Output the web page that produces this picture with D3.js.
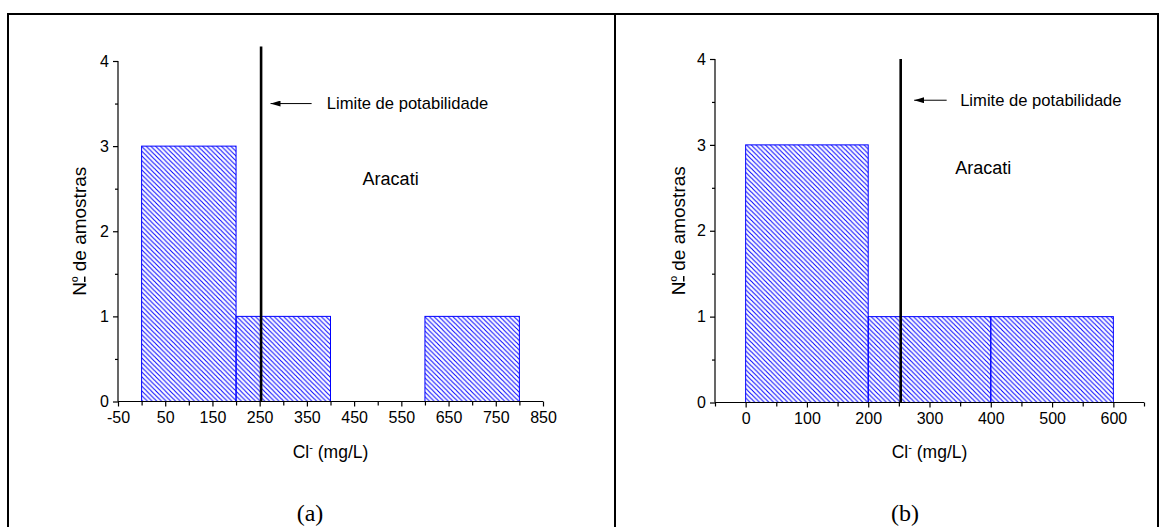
<!DOCTYPE html>
<html>
<head>
<meta charset="utf-8">
<script src="https://d3js.org/d3.v7.min.js"></script>
<style>
html,body{margin:0;padding:0;background:#fff;}
svg{display:block;font-family:"Liberation Sans",Arial,sans-serif;}
</style>
</head>
<body>
<svg id="chart" width="1166" height="527"></svg>
<script>
// ---- data ----
const binStartsA = [0, 200, 600];
const binEndsA   = [200, 400, 800];
const countsA    = [3, 1, 1];
const xTicksA    = [-50, 50, 150, 250, 350, 450, 550, 650, 750, 850];
const xMinorA    = [0, 100, 200, 300, 400, 500, 600, 700, 800];

const binStartsB = [0, 200, 400];
const binEndsB   = [200, 400, 600];
const countsB    = [3, 1, 1];
const xTicksB    = [0, 100, 200, 300, 400, 500, 600];
const xMinorB    = [-50, 50, 150, 250, 350, 450, 550, 650];

const yTicks     = [0, 1, 2, 3, 4];
const yMinor     = [0.5, 1.5, 2.5, 3.5];
const limitValue = 253;
const annotationText = "Limite de potabilidade";
const siteName   = "Aracati";
const panelLabels = ["(a)", "(b)"];

const svg = d3.select("#chart");
const fmt = d => String(d);

// pattern
const defs = svg.append("defs");
const pw = 4.7;
const pat = defs.append("pattern").attr("id", "hatch")
  .attr("patternUnits", "userSpaceOnUse").attr("width", pw).attr("height", pw);
pat.append("path")
  .attr("d", `M0,0 L${pw},${pw} M${-pw},0 L0,${pw} M0,${-pw} L${pw},0 M${pw},${-pw} L${2*pw},0 M0,${pw} L${pw},${2*pw}`)
  .attr("stroke", "#0000ff").attr("stroke-width", 1);
defs.append("marker").attr("id", "arrow").attr("viewBox", "0 0 10 6")
  .attr("refX", 10).attr("refY", 3).attr("markerWidth", 10).attr("markerHeight", 6)
  .attr("markerUnits", "userSpaceOnUse").attr("orient", "auto")
  .append("path").attr("d", "M0,0 L10,3 L0,6 Z").attr("fill", "#000");

// frame
svg.append("rect").attr("x", 8).attr("y", 14).attr("width", 1150).attr("height", 540)
  .attr("fill", "none").attr("stroke", "#000").attr("stroke-width", 2);
svg.append("line").attr("x1", 615).attr("x2", 615).attr("y1", 14).attr("y2", 540)
  .attr("stroke", "#000").attr("stroke-width", 2);

function drawPanel(cfg) {
  const x = d3.scaleLinear().domain(cfg.xDomain).range(cfg.xRange);
  const y = d3.scaleLinear().domain([0, 4]).range(cfg.yRange);
  const g = svg.append("g");

  // bars
  const bars = cfg.starts.map((s, i) => ({s, e: cfg.ends[i], c: cfg.counts[i]}));
  g.selectAll("rect.bar").data(bars).enter().append("rect")
    .attr("class", "bar")
    .attr("x", d => x(d.s)).attr("width", d => x(d.e) - x(d.s))
    .attr("y", d => y(d.c)).attr("height", d => y(0) - y(d.c))
    .attr("fill", "url(#hatch)").attr("stroke", "#0000ff").attr("stroke-width", 1);

  // y axis
  const yAxis = d3.axisLeft(y).tickValues(yTicks).tickFormat(fmt).tickSize(5).tickPadding(4);
  const ya = g.append("g").attr("transform", `translate(${x(cfg.xDomain[0])},0)`).call(yAxis);
  const yAxisMinor = d3.axisLeft(y).tickValues(yMinor).tickFormat("").tickSize(3);
  g.append("g").attr("transform", `translate(${x(cfg.xDomain[0])},0)`).call(yAxisMinor)
    .select(".domain").remove();

  // x axis
  const xAxis = d3.axisBottom(x).tickValues(cfg.xTicks).tickFormat(fmt).tickSize(5).tickPadding(5);
  const xa = g.append("g").attr("transform", `translate(0,${y(0)})`).call(xAxis);
  const xAxisMinor = d3.axisBottom(x).tickValues(cfg.xMinor).tickFormat("").tickSize(4);
  g.append("g").attr("transform", `translate(0,${y(0)})`).call(xAxisMinor)
    .select(".domain").remove();

  g.selectAll(".domain").attr("stroke", "#000").attr("stroke-width", 1.2);
  g.selectAll(".tick line").attr("stroke", "#000").attr("stroke-width", 1.2);
  g.selectAll(".tick text").attr("font-family", "Liberation Sans, Arial, sans-serif")
    .attr("font-size", 16).attr("fill", "#000");
  ya.select(".domain").attr("d", `M0,${y(0)}V${y(4)}`);
  xa.select(".domain").attr("d", `M${cfg.xRange[0]},0H${cfg.xRange[1]}`);

  // limit line
  g.append("line").attr("x1", x(limitValue)).attr("x2", x(limitValue))
    .attr("y1", y(0)).attr("y2", y(cfg.limitTop))
    .attr("stroke", "#000").attr("stroke-width", 2.6);

  // arrow annotation
  g.append("line").attr("x1", x(cfg.arrowFrom)).attr("x2", x(cfg.arrowTo))
    .attr("y1", y(cfg.arrowY)).attr("y2", y(cfg.arrowY))
    .attr("stroke", "#000").attr("stroke-width", 1)
    .attr("marker-end", "url(#arrow)");
  g.append("text").attr("x", x(cfg.textX)).attr("y", y(cfg.arrowY)).attr("dy", "0.35em")
    .attr("font-size", 16.6).text(annotationText);
  g.append("text").attr("x", x(cfg.siteX)).attr("y", y(cfg.siteY)).attr("dy", "0.35em")
    .attr("font-size", 18).text(siteName);

  // axis titles
  const xt = g.append("text").attr("x", (cfg.xRange[0] + cfg.xRange[1]) / 2).attr("y", cfg.xTitleY)
    .attr("text-anchor", "middle").attr("font-size", 17.5);
  xt.append("tspan").text("Cl");
  xt.append("tspan").attr("font-size", 11).attr("dy", -7).text("-");
  xt.append("tspan").attr("dy", 7).text(" (mg/L)");

  const yt = g.append("text").attr("transform", `translate(${cfg.yTitleX},${(y(0) + y(4)) / 2}) rotate(-90)`)
    .attr("text-anchor", "middle").attr("font-size", 19);
  yt.append("tspan").text("N");
  yt.append("tspan").attr("font-size", 15).attr("dy", -3)
    .style("text-decoration", "underline").text("º");
  yt.append("tspan").attr("dy", 3).text(" de amostras");

  svg.append("text").attr("x", cfg.labelX).attr("y", 521).attr("text-anchor", "middle")
    .attr("font-family", "Liberation Serif, Times New Roman, serif").attr("font-size", 24)
    .text(cfg.label);
}

drawPanel({
  xDomain: [-50, 850], xRange: [118, 543], yRange: [401.5, 61],
  starts: binStartsA, ends: binEndsA, counts: countsA,
  xTicks: xTicksA, xMinor: xMinorA,
  limitTop: 4.17, arrowY: 3.5, arrowFrom: 360, arrowTo: 273, textX: 392,
  siteX: 468, siteY: 2.62, xTitleY: 458, yTitleX: 86, labelX: 310, label: panelLabels[0]
});
drawPanel({
  xDomain: [-50, 650], xRange: [715, 1144], yRange: [402.5, 59],
  starts: binStartsB, ends: binEndsB, counts: countsB,
  xTicks: xTicksB, xMinor: xMinorB,
  limitTop: 4.0, arrowY: 3.52, arrowFrom: 328, arrowTo: 275, textX: 350,
  siteX: 342, siteY: 2.74, xTitleY: 458, yTitleX: 685, labelX: 905, label: panelLabels[1]
});
</script>
</body>
</html>
